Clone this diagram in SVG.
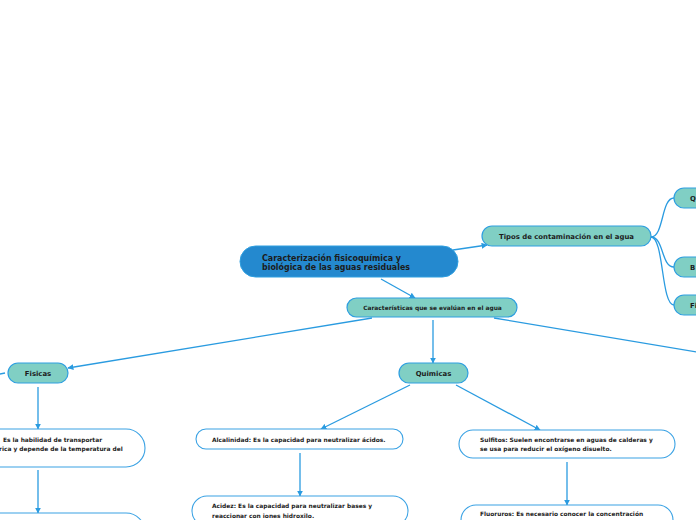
<svg xmlns="http://www.w3.org/2000/svg" width="696" height="520" viewBox="0 0 696 520">
<defs>
<marker id="arr" viewBox="0 0 10 10" refX="9" refY="5" markerWidth="6" markerHeight="6" orient="auto" markerUnits="userSpaceOnUse">
<path d="M0,0 L10,5 L0,10 z" fill="#2a9be0"/>
</marker>
<style>
.teal{fill:#80cfc4;stroke:#2e9fe0;stroke-width:1.2}
.white{fill:#ffffff;stroke:#3aa2e4;stroke-width:1.1}
.main{fill:#2489cf;stroke:#2e9fe0;stroke-width:1}
.c{fill:none;stroke:#2a9be0;stroke-width:1.3}
text{font-family:"DejaVu Sans","Verdana",sans-serif;font-weight:bold;fill:#1c1c1c}
.t7{font-size:6.9px}
.t6{font-size:5.9px}
.t8{font-size:9px}
</style>
</defs>
<rect width="696" height="520" fill="#ffffff"/>
<g id="connectors">
<line class="c" x1="381" y1="279" x2="415" y2="298" marker-end="url(#arr)"/>
<line class="c" x1="453" y1="250" x2="487" y2="245" marker-end="url(#arr)"/>
<path class="c" d="M651,237 C664,237 661,198 674,198"/>
<path class="c" d="M651,237 C664,237 661,267 674,267"/>
<path class="c" d="M651,237 C664,237 661,305 674,305"/>
<line class="c" x1="372" y1="318" x2="68" y2="368" marker-end="url(#arr)"/>
<line class="c" x1="494" y1="318" x2="720" y2="356"/>
<line class="c" x1="433" y1="320" x2="433" y2="363" marker-end="url(#arr)"/>
<line class="c" x1="5" y1="373" x2="-30" y2="380"/>
<line class="c" x1="38" y1="387" x2="38" y2="429" marker-end="url(#arr)"/>
<line class="c" x1="38" y1="470" x2="38" y2="513" marker-end="url(#arr)"/>
<line class="c" x1="410" y1="385" x2="321" y2="429" marker-end="url(#arr)"/>
<line class="c" x1="300" y1="453" x2="300" y2="496" marker-end="url(#arr)"/>
<line class="c" x1="456" y1="385" x2="540" y2="430" marker-end="url(#arr)"/>
<line class="c" x1="567" y1="462" x2="567" y2="505" marker-end="url(#arr)"/>
</g>
<g id="node-main">
<rect class="main" x="240" y="246" width="218" height="31" rx="15.5"/>
<text class="t8" x="262" y="260.5" textLength="139" lengthAdjust="spacingAndGlyphs">Caracterización fisicoquímica y</text>
<text class="t8" x="262" y="269.8" textLength="148" lengthAdjust="spacingAndGlyphs">biológica de las aguas residuales</text>
</g>
<g id="node-tipos">
<rect class="teal" x="482" y="226" width="169" height="20" rx="10"/>
<text class="t7" x="566.5" y="238.5" text-anchor="middle">Tipos de contaminación en el agua</text>
</g>
<g id="node-q">
<rect class="teal" x="674" y="188" width="60" height="20" rx="10"/>
<text class="t7" x="690" y="200.5">Q</text>
</g>
<g id="node-b">
<rect class="teal" x="674" y="257" width="60" height="20" rx="10"/>
<text class="t7" x="690" y="269.5">B</text>
</g>
<g id="node-fi">
<rect class="teal" x="674" y="295" width="60" height="20" rx="10"/>
<text class="t7" x="690" y="307.5">Fi</text>
</g>
<g id="node-caracteristicas">
<rect class="teal" x="347" y="298" width="170" height="19" rx="9.5"/>
<text class="t6" x="432.5" y="309.5" text-anchor="middle">Características que se evalúan en el agua</text>
</g>
<g id="node-fisicas">
<rect class="teal" x="8" y="363" width="60" height="20" rx="10"/>
<text class="t7" x="38" y="375.5" text-anchor="middle">Fisicas</text>
</g>
<g id="node-quimicas">
<rect class="teal" x="399" y="363" width="69" height="20" rx="10"/>
<text class="t7" x="433.5" y="375.5" text-anchor="middle">Quimicas</text>
</g>
<g id="node-conductividad">
<rect class="white" x="-80" y="429" width="225" height="38" rx="19"/>
<text class="t6" x="3" y="442">Es la habilidad de transportar</text>
<text class="t6" x="-1" y="450.5">rica y depende de la temperatura del</text>
</g>
<g id="node-fisica2">
<rect class="white" x="-80" y="513" width="225" height="38" rx="19"/>
</g>
<g id="node-alcalinidad">
<rect class="white" x="196" y="429" width="207" height="20" rx="10"/>
<text class="t6" x="212" y="441.5">Alcalinidad: Es la capacidad para neutralizar ácidos.</text>
</g>
<g id="node-acidez">
<rect class="white" x="192" y="496" width="216" height="30" rx="15"/>
<text class="t6" x="212" y="508">Acidez: Es la capacidad para neutralizar bases y</text>
<text class="t6" x="212" y="518">reaccionar con iones hidroxilo.</text>
</g>
<g id="node-sulfitos">
<rect class="white" x="459" y="430" width="216" height="28" rx="14"/>
<text class="t6" x="480" y="442">Sulfitos: Suelen encontrarse en aguas de calderas y</text>
<text class="t6" x="480" y="451">se usa para reducir el oxígeno disuelto.</text>
</g>
<g id="node-fluoruros">
<rect class="white" x="461" y="505" width="212" height="30" rx="15"/>
<text class="t6" x="480" y="516">Fluoruros: Es necesario conocer la concentración</text>
</g>
</svg>
